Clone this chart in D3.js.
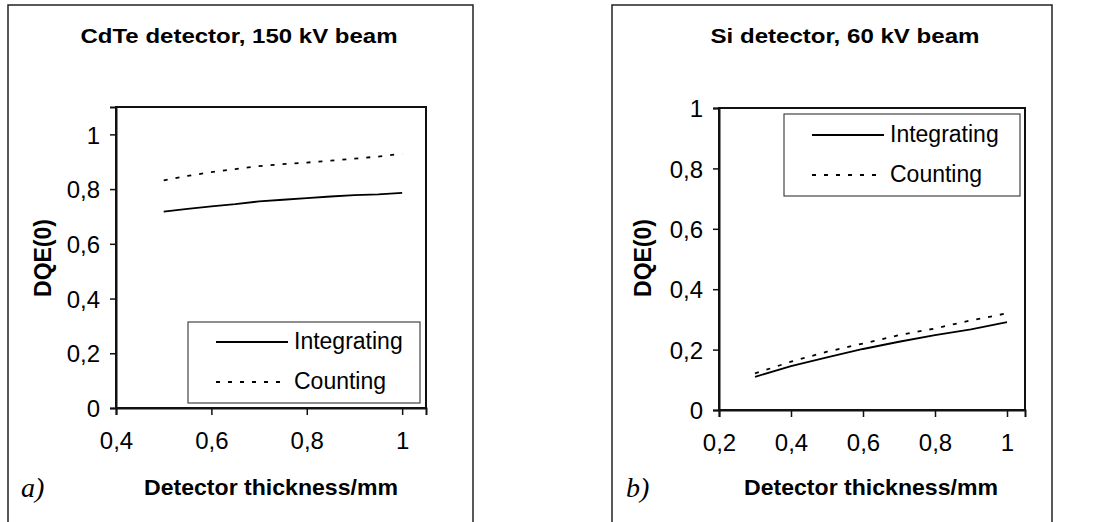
<!DOCTYPE html>
<html>
<head>
<meta charset="utf-8">
<script src="https://cdn.jsdelivr.net/npm/d3@7"></script>
<style>
  body { margin: 0; background: #fff; }
  text { font-family: Arial, "Liberation Sans", sans-serif; }
</style>
</head>
<body>
<div id="chart"></div>
<script>
// values
const cdteThickness = [0.5, 0.55, 0.6, 0.65, 0.7, 0.75, 0.8, 0.85, 0.9, 0.95, 1.0];
const cdteIntegrating = [0.718, 0.728, 0.737, 0.745, 0.755, 0.761, 0.767, 0.773, 0.778, 0.781, 0.786];
const cdteCounting = [0.832, 0.848, 0.862, 0.873, 0.884, 0.891, 0.897, 0.904, 0.911, 0.919, 0.929];

const siThickness = [0.3, 0.4, 0.5, 0.6, 0.7, 0.8, 0.9, 1.0];
const siIntegrating = [0.110, 0.145, 0.174, 0.202, 0.226, 0.248, 0.267, 0.291];
const siCounting = [0.121, 0.160, 0.193, 0.220, 0.248, 0.270, 0.297, 0.320];

const seriesNames = ["Integrating", "Counting"];
const yTicks = [0, 0.2, 0.4, 0.6, 0.8, 1];
const cdteXTicks = [0.4, 0.6, 0.8, 1];
const siXTicks = [0.2, 0.4, 0.6, 0.8, 1];

const width = 1094;
const height = 522;

const svg = d3.select("#chart")
  .append("svg")
  .attr("width", width)
  .attr("height", height);

const fmt = (d) => String(d).replace(".", ",");

function drawPanel(p) {
  const g = svg.append("g");

  // outer frame (open at the bottom, page is cut)
  g.append("path")
    .attr("d", `M${p.frame[0]},${height + 2}V${p.frame[1]}H${p.frame[2]}V${height + 2}`)
    .attr("fill", "none")
    .attr("stroke", "#222")
    .attr("stroke-width", 1.5);

  const x = d3.scaleLinear().domain(p.xDomain).range([p.plot.left, p.plot.right]);
  const y = d3.scaleLinear().domain(p.yDomain).range([p.plot.bottom, p.plot.top]);

  // plot area box
  g.append("rect")
    .attr("x", p.plot.left)
    .attr("y", p.plot.top)
    .attr("width", p.plot.right - p.plot.left)
    .attr("height", p.plot.bottom - p.plot.top)
    .attr("fill", "none")
    .attr("stroke", "#111")
    .attr("stroke-width", 2);

  const yAxis = g.append("g")
    .attr("transform", `translate(${p.plot.left},0)`)
    .call(d3.axisLeft(y).tickValues(yTicks).tickFormat(fmt).tickSize(6).tickPadding(10));
  const xAxis = g.append("g")
    .attr("transform", `translate(0,${p.plot.bottom})`)
    .call(d3.axisBottom(x).tickValues(p.xTicks).tickFormat(fmt).tickSize(7).tickPadding(17));

  [yAxis, xAxis].forEach((a) => {
    a.select(".domain").attr("stroke", "#111").attr("stroke-width", 2);
    a.selectAll(".tick line").attr("stroke", "#111").attr("stroke-width", 1.5);
    a.selectAll(".tick text")
      .attr("fill", "#000")
      .style("font-size", "24px")
      .style("font-family", "Arial, 'Liberation Sans', sans-serif");
  });
  yAxis.selectAll(".tick text").attr("dy", "0.36em");

  // lines
  const line = d3.line().x((d) => x(d[0])).y((d) => y(d[1]));
  const styles = [
    { dash: null },
    { dash: "4,8" }
  ];
  [p.integrating, p.counting].forEach((vals, i) => {
    g.append("path")
      .datum(p.thickness.map((t, j) => [t, vals[j]]))
      .attr("fill", "none")
      .attr("stroke", "#000")
      .attr("stroke-width", 1.8)
      .attr("stroke-dasharray", styles[i].dash)
      .attr("d", line);
  });

  // legend
  const lg = p.legend;
  g.append("rect")
    .attr("x", lg.x)
    .attr("y", lg.y)
    .attr("width", lg.w)
    .attr("height", lg.h)
    .attr("fill", "#fff")
    .attr("stroke", "#444")
    .attr("stroke-width", 1.2);
  seriesNames.forEach((name, i) => {
    const ly = lg.y + lg.rows[i];
    g.append("line")
      .attr("x1", lg.x + 28)
      .attr("x2", lg.x + 100)
      .attr("y1", ly)
      .attr("y2", ly)
      .attr("stroke", "#000")
      .attr("stroke-width", 1.8)
      .attr("stroke-dasharray", styles[i].dash);
    g.append("text")
      .attr("x", lg.x + 106)
      .attr("y", ly + 7)
      .style("font-size", "23px")
      .text(name);
  });

  // titles
  g.append("text")
    .attr("x", p.titleX)
    .attr("y", 43)
    .attr("text-anchor", "middle")
    .style("font-size", "21px")
    .style("font-weight", "bold")
    .attr("textLength", p.titleLen)
    .attr("lengthAdjust", "spacingAndGlyphs")
    .text(p.title);

  g.append("text")
    .attr("transform", `translate(${p.yLabelX},258) rotate(-90)`)
    .attr("text-anchor", "middle")
    .style("font-size", "23px")
    .style("font-weight", "bold")
    .text("DQE(0)");

  g.append("text")
    .attr("x", p.xLabelX)
    .attr("y", 495)
    .attr("text-anchor", "middle")
    .style("font-size", "22px")
    .style("font-weight", "bold")
    .attr("textLength", 254)
    .attr("lengthAdjust", "spacingAndGlyphs")
    .text("Detector thickness/mm");

  g.append("text")
    .attr("x", p.tagX)
    .attr("y", 497)
    .style("font-family", "'Liberation Serif', 'Times New Roman', serif")
    .style("font-style", "italic")
    .style("font-size", "28px")
    .text(p.tag);
}

drawPanel({
  frame: [8, 5, 473],
  plot: { left: 116, right: 426, top: 107, bottom: 408 },
  xDomain: [0.4, 1.05],
  yDomain: [0, 1.1],
  xTicks: cdteXTicks,
  thickness: cdteThickness,
  integrating: cdteIntegrating,
  counting: cdteCounting,
  legend: { x: 188, y: 322, w: 232, h: 81, rows: [20, 60] },
  title: "CdTe detector, 150 kV beam",
  titleX: 239,
  titleLen: 317,
  yLabelX: 51,
  xLabelX: 271,
  tagX: 21,
  tag: "a)"
});

drawPanel({
  frame: [612, 5, 1052],
  plot: { left: 719, right: 1025, top: 108, bottom: 410 },
  xDomain: [0.2, 1.05],
  yDomain: [0, 1],
  xTicks: siXTicks,
  thickness: siThickness,
  integrating: siIntegrating,
  counting: siCounting,
  legend: { x: 784, y: 114, w: 236, h: 82, rows: [21, 61] },
  title: "Si detector, 60 kV beam",
  titleX: 845,
  titleLen: 269,
  yLabelX: 651,
  xLabelX: 871,
  tagX: 626,
  tag: "b)"
});
</script>
</body>
</html>
